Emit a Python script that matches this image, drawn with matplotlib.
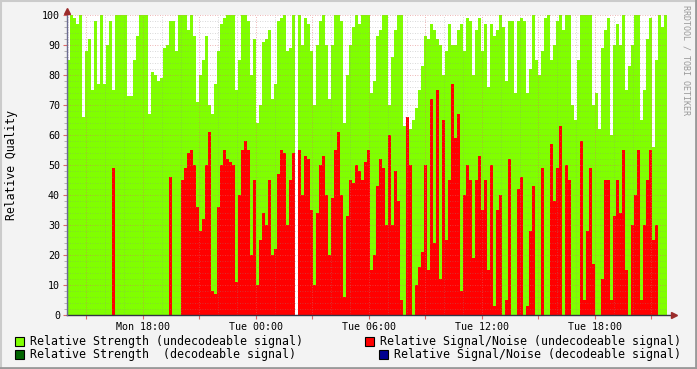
import matplotlib
matplotlib.use('Agg')
import matplotlib.pyplot as plt
import numpy as np
from matplotlib.patches import Rectangle
from matplotlib.lines import Line2D
from matplotlib.ticker import MultipleLocator, FixedLocator

# time axis: hours since Mon 00:00, one sample every ~9.5 min
t_start = 13.97
step_h = 0.1593

strength = [85, 100, 99, 97, 100, 66, 88, 92, 75, 98, 77, 100, 77, 90, 98, 75,
            100, 100, 100, 100, 73, 73, 85, 93, 100, 100, 100, 67, 81, 80, 78, 79,
            89,
            90, 98, 98, 88, 100, 100, 100, 95, 100, 93, 71, 80, 85, 93, 70, 67,
            77, 88, 97, 99, 100, 100, 100, 75, 85, 100, 100, 98, 80, 92, 64, 70, 91,
            92, 95, 72, 77, 98, 99, 100, 88, 89, 100, 0, 100, 90, 99, 97, 88,
            70, 90, 98, 100, 90, 72, 90, 100, 100, 98, 64, 80, 90, 96, 100, 97, 100,
            100, 100, 74, 78, 93, 95, 100, 100, 70, 86, 95, 100, 100, 63, 63, 62,
            65, 69, 75, 83, 93, 92, 97, 95, 92, 90, 80, 88, 97, 90, 90, 95, 97,
            88, 99, 98, 80, 95, 99, 88, 97, 76, 97, 93, 95, 100, 96, 78, 98, 98,
            74, 98, 99, 98, 74, 82, 100, 85, 80, 88, 99, 100, 85, 90, 98, 100, 95,
            100, 100, 70, 65, 85, 100, 100, 100, 100, 70, 74, 62, 89, 95, 99, 60, 90,
            97, 90, 100, 75, 83, 90, 100, 100, 65, 75, 92, 99, 56, 85, 100, 96, 100]

snr = [0, 0, 0, 0, 0, 0, 0, 0, 0, 0, 0, 0, 0, 0, 0, 49,
       0, 0, 0, 0, 0, 0, 0, 0, 0, 0, 0, 0, 0, 0, 0, 0,
       0,
       0, 46, 0, 0, 0, 45, 49, 54, 55, 50, 36, 28, 32, 50, 61, 8,
       7, 36, 50, 55, 52, 51, 50, 11, 40, 55, 58, 55, 20, 45, 10, 25, 34,
       30, 45, 20, 22, 47, 55, 54, 30, 45, 54, 0, 55, 40, 53, 52, 35,
       10, 34, 50, 53, 40, 20, 39, 55, 61, 40, 6, 33, 45, 44, 50, 48, 45,
       51, 55, 15, 20, 43, 52, 49, 30, 60, 30, 48, 38, 5, 0, 66, 50,
       0, 10, 16, 21, 50, 15, 72, 24, 75, 12, 65, 25, 45, 77, 59, 67, 8,
       40, 50, 45, 19, 45, 53, 35, 45, 15, 50, 3, 35, 40, 0, 5, 52, 0,
       0, 42, 46, 0, 3, 28, 43, 0, 0, 49, 0, 0, 57, 38, 49, 63, 0,
       50, 45, 0, 0, 0, 58, 5, 28, 49, 17, 0, 0, 12, 45, 45, 5, 33,
       45, 34, 55, 15, 0, 30, 40, 55, 5, 30, 45, 55, 25, 30, 0, 0, 0]

tick_hours = [18, 24, 30, 36, 42]
tick_labels = ['Mon 18:00', 'Tue 00:00', 'Tue 06:00', 'Tue 12:00', 'Tue 18:00']

legend_items = [
    ('Relative Strength (undecodeable signal)', '#80ff00'),
    ('Relative Signal/Noise (undecodeable signal)', '#ff0000'),
    ('Relative Strength  (decodeable signal)', '#006400'),
    ('Relative Signal/Noise (decodeable signal)', '#000090'),
]

W, H = 697, 369
mono = 'DejaVu Sans Mono'

fig = plt.figure(figsize=(W / 100, H / 100), dpi=100, facecolor='#f3f3f3')
ax = fig.add_axes([67 / W, 1 - 315 / H, 600 / W, 300 / H])
ax.set_facecolor('white')

edges = t_start + step_h * np.arange(len(strength) + 1)
ax.stairs(strength, edges, fill=True, color='#80ff00', lw=0)
ax.stairs(snr, edges, fill=True, color='#ff0000', lw=0)

ax.set_xlim(edges[0], edges[-1])
ax.set_ylim(0, 100)

# x ticks every 3h, labels every 6h
major_x = np.arange(15, 46, 3)
ax.xaxis.set_major_locator(FixedLocator(major_x))
ax.set_xticklabels([tick_labels[tick_hours.index(h)] if h in tick_hours else '' for h in major_x])
ax.xaxis.set_minor_locator(MultipleLocator(1))
ax.yaxis.set_major_locator(MultipleLocator(10))
ax.yaxis.set_minor_locator(MultipleLocator(2))

ax.set_axisbelow(False)
ax.grid(which='minor', color='#8f8f8f', alpha=0.45, linestyle=(0, (1, 2)), lw=0.6)
ax.grid(which='major', color='#de6868', alpha=0.65, linestyle=(0, (1, 2)), lw=0.6)

for s in ax.spines.values():
    s.set_visible(False)

ax.tick_params(axis='both', which='major', length=3, width=0.8, color='#de6868',
               labelsize=7.2, pad=2)
ax.tick_params(axis='both', which='minor', length=2, width=0.6, color='#aaaaaa')
ax.tick_params(axis='x', which='minor', length=0)
for lab in ax.get_xticklabels() + ax.get_yticklabels():
    lab.set_family(mono)

# axis lines with arrows
ax.plot([0, 1.012], [0, 0], color='#333344', lw=1, transform=ax.transAxes, clip_on=False, zorder=5)
ax.plot([0, 0], [0, 1.015], color='#6a6a90', lw=1, transform=ax.transAxes, clip_on=False, zorder=5)
ax.plot([1.012], [0], marker='>', ms=4, color='#9b2b2b', transform=ax.transAxes, clip_on=False, zorder=6)
ax.plot([0], [1.015], marker='^', ms=4, color='#9b2b2b', transform=ax.transAxes, clip_on=False, zorder=6)

fig.text(12 / W, 1 - 165 / H, 'Relative Quality', rotation=90, ha='center', va='center',
         family=mono, fontsize=8.3)
fig.text(686 / W, 1 - 60 / H, 'RRDTOOL / TOBI OETIKER', rotation=270, ha='center', va='center',
         family=mono, fontsize=6, color='#999999')

# legend
box_pos = [(15, 337), (365, 337), (15, 350), (379, 350)]
for (label, col), (bx, by) in zip(legend_items, box_pos):
    fig.add_artist(Rectangle((bx / W, 1 - (by + 9) / H), 9 / W, 9 / H, facecolor=col,
                             edgecolor='black', lw=0.8, transform=fig.transFigure))
    fig.text((bx + 15) / W, 1 - (by + 4.5) / H, label, ha='left', va='center',
             family=mono, fontsize=8.38)

# frame shading
fig.add_artist(Line2D([0, 1], [1 - 0.5 / H, 1 - 0.5 / H], color='#cbcbcb', lw=1.5, transform=fig.transFigure))
fig.add_artist(Line2D([0.5 / W, 0.5 / W], [0, 1], color='#cbcbcb', lw=1.5, transform=fig.transFigure))
fig.add_artist(Line2D([0, 1], [1.2 / H, 1.2 / H], color='#999999', lw=2, transform=fig.transFigure))
fig.add_artist(Line2D([1 - 1.2 / W, 1 - 1.2 / W], [0, 1], color='#999999', lw=2, transform=fig.transFigure))

fig.savefig('out.png', dpi=100, facecolor=fig.get_facecolor())
